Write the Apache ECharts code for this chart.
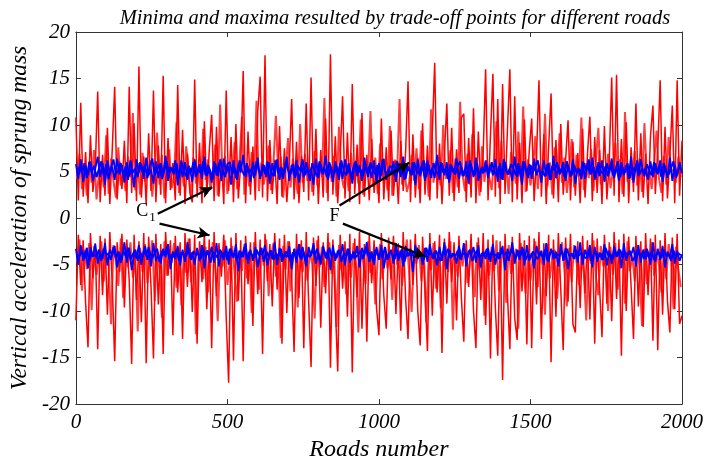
<!DOCTYPE html>
<html>
<head>
<meta charset="utf-8">
<script src="https://cdn.jsdelivr.net/npm/echarts@6/dist/echarts.min.js"></script>
<style>html,body{margin:0;padding:0;background:#fff;overflow:hidden}#c{width:706px;height:467px}</style>
</head>
<body>
<div id="c"></div>
<script>
// Two trade-off solutions per colour family; each sampled every 8 roads.
// "A" solutions sit on roads 0,8,...,2000; "B" solutions on roads 4,12,...,1996.
var roadStep = 8;

var redMaxA = [
10.8,1.9,12.4,2.3,7.1,1.6,8.9,2.8,5.4,13.6,
1.7,6.8,2.4,9.7,1.5,7.4,14.1,2.0,6.1,3.1,
8.3,1.6,14.1,2.7,10.2,1.8,16.3,2.2,6.6,1.5,
9.1,2.9,13.7,1.7,7.8,2.5,15.3,1.6,8.6,3.0,
5.9,1.9,14.3,2.4,9.5,1.5,6.9,2.8,1.7,14.9,
2.2,8.1,1.6,10.4,2.6,7.2,11.1,1.8,9.8,2.3,
6.4,1.5,13.7,2.9,8.7,1.7,10.1,2.1,5.8,15.8,
1.6,9.3,2.5,7.7,1.9,11.4,15.2,2.2,17.5,1.8,
8.4,2.6,6.3,1.5,9.9,2.3,7.5,1.7,5.6,12.8,
2.0,8.2,1.6,6.7,2.8,12.3,1.9,15.1,2.4,9.6,
1.5,7.3,2.2,10.7,1.8,17.6,2.5,8.8,1.6,6.4,
13.1,2.1,9.2,1.7,14.4,2.6,7.9,1.5,11.3,2.3,
6.8,1.9,8.5,2.7,5.7,1.6,10.7,2.0,7.6,1.8,
9.4,2.4,6.2,1.5,8.3,2.9,7.1,14.7,1.7,9.0,
2.2,6.5,1.6,10.2,2.5,7.8,1.9,9.1,16.7,2.1,
8.0,1.5,6.9,12.3,2.4,9.7,1.8,7.4,2.7,10.8,
11.2,1.7,8.6,2.2,11.8,1.6,9.3,2.8,7.0,16.0,
1.9,8.9,15.5,2.3,12.8,1.5,14.4,2.6,9.5,16.0,
1.7,13.1,2.0,8.1,1.6,10.6,2.9,7.2,10.7,1.8,
6.6,14.8,2.3,9.0,1.5,7.7,13.4,2.1,8.4,1.7,
10.1,2.5,6.3,10.5,1.9,8.2,2.4,7.0,1.6,9.6,
2.2,6.8,10.9,1.8,8.7,2.7,7.3,1.5,9.9,2.0,
6.1,15.1,2.4,15.4,1.7,8.5,2.3,10.3,1.6,7.6,
2.8,12.3,1.9,9.1,2.2,6.9,1.5,8.8,12.1,2.6,
7.4,14.8,1.8,9.8,2.1,6.7,12.1,1.6,14.8,2.4,8.3
];
var redMaxB = [
4.2,6.9,3.1,5.5,2.4,6.1,3.8,7.3,2.0,4.7,
5.8,3.3,8.9,2.6,6.4,4.0,2.2,7.6,3.5,5.1,
2.9,6.6,4.4,11.3,3.0,5.9,2.5,7.0,3.9,4.8,
6.2,2.3,5.4,9.2,3.6,6.8,2.1,4.9,7.4,3.2,
4.5,10.3,2.7,6.0,3.4,7.7,5.2,2.0,6.5,3.7,
5.6,2.8,9.6,4.1,6.3,3.0,5.0,7.9,2.4,12.2,
3.9,6.7,2.6,5.3,4.6,8.2,3.1,6.1,10.9,2.5,
5.7,3.4,7.1,4.3,12.6,2.9,6.0,3.6,5.4,7.8,
3.0,5.9,11.0,4.2,6.6,2.2,5.1,8.6,3.3,6.4,
4.7,2.6,10.1,3.8,6.9,4.0,5.5,2.8,7.2,3.5,
6.0,4.4,12.9,2.7,5.8,3.9,6.7,2.3,9.8,4.6,
3.2,5.6,2.9,7.0,4.1,6.2,3.7,10.6,2.5,5.3,
4.8,11.5,3.4,6.5,2.6,8.0,4.3,5.7,3.0,9.9,
2.4,6.3,4.9,12.8,3.6,5.2,2.8,3.9,6.8,4.0,
7.5,3.1,9.4,4.5,5.9,2.3,11.7,3.8,6.1,4.7,
3.5,10.0,4.2,5.0,7.3,2.7,6.4,3.3,12.5,4.6,
2.9,6.9,3.6,9.0,4.8,5.5,2.4,7.7,3.9,6.2,
4.4,3.0,6.6,10.4,3.2,8.3,4.1,5.8,2.6,7.1,
5.4,3.7,9.3,4.0,12.0,2.8,6.3,3.5,5.2,8.8,
3.1,5.7,4.6,11.2,3.4,6.0,2.5,7.6,4.2,9.1,
3.8,6.5,2.7,5.1,8.5,3.3,6.8,4.5,10.8,3.0,
5.9,4.3,7.4,2.9,6.1,9.7,3.6,5.6,4.0,6.9,
3.2,5.0,8.1,4.7,6.3,2.6,11.4,3.9,5.8,4.1,
7.2,3.5,6.4,2.8,10.2,4.6,5.5,3.1,6.0,9.4,
4.3,2.7,6.7,3.6,8.7,4.9,5.3,3.8,6.6,4.4
];

var blueMaxA = [
5.8,4.2,6.3,3.9,5.6,4.6,6.1,4.0,5.3,6.6,
4.4,5.9,3.6,6.2,4.8,5.5,4.1,6.4,4.7,5.7,
3.8,6.0,4.5,5.4,3.3,6.3,4.9,5.8,4.2,6.5,
4.6,5.2,3.7,6.1,4.3,5.9,4.8,6.7,4.0,5.5,
4.9,6.2,3.5,5.7,4.4,6.0,4.1,5.4,3.9,6.3,
4.7,5.8,4.2,6.6,4.5,5.3,3.8,6.1,4.6,5.9,
4.0,6.4,4.8,5.6,3.6,6.2,4.3,5.7,4.9,6.8,
4.4,5.5,3.9,6.0,4.6,6.5,4.2,5.8,4.7,6.1,
3.7,5.9,4.5,6.3,4.1,5.4,4.8,6.6,4.0,5.7,
4.6,6.2,3.8,5.6,4.4,6.0,4.9,5.3,3.6,6.4,
4.3,5.8,4.7,6.7,4.1,5.5,3.9,6.1,4.6,5.9,
4.2,6.3,4.8,5.4,3.7,6.0,4.5,5.7,4.0,6.5,
4.9,5.6,4.3,6.2,3.8,5.9,4.6,6.4,4.1,5.3,
4.7,6.1,3.9,5.8,4.4,6.6,4.2,5.5,4.8,6.0,
3.6,6.3,4.5,5.7,4.0,6.2,4.7,5.4,4.3,6.8,
4.1,5.9,4.6,6.0,3.8,5.6,4.9,6.4,4.2,5.5,
4.5,6.1,3.7,5.8,4.4,6.5,4.0,5.3,4.8,6.2,
4.3,5.7,4.6,6.3,3.9,5.9,4.1,6.0,4.7,5.4,
4.0,6.6,4.4,5.6,3.6,6.1,4.8,5.8,4.2,6.4,
4.6,5.5,3.8,6.2,4.5,5.9,4.1,6.7,4.3,5.6,
4.9,6.0,4.0,5.7,4.4,6.3,3.7,5.4,4.6,6.1,
4.2,5.8,4.7,6.5,4.1,5.6,4.5,6.2,3.9,5.9,
4.8,6.4,4.3,5.5,4.0,6.0,4.6,5.7,4.2,6.6,
3.8,5.8,4.5,6.3,4.9,5.4,4.1,6.1,4.4,5.9,
4.7,6.2,3.9,5.6,4.3,6.5,4.0,5.7,4.6,6.0,4.8
];
var blueMaxB = [
5.1,5.5,4.8,5.9,4.3,6.0,4.9,5.6,4.4,5.3,
6.1,4.6,5.8,4.2,5.4,6.3,4.7,5.2,5.9,4.5,
5.6,4.1,6.2,4.9,5.3,4.4,6.0,5.0,5.7,4.3,
5.5,6.4,4.6,5.2,5.8,4.2,5.1,6.1,4.8,5.4,
4.7,5.9,4.3,6.2,5.0,4.5,5.6,4.9,6.0,4.4,
5.3,4.8,6.1,4.6,5.7,5.0,4.2,5.9,4.5,6.3,
5.2,4.4,5.8,6.0,4.7,5.4,4.1,6.2,5.1,4.6,
5.9,4.9,5.3,4.3,6.1,5.0,4.6,5.7,4.4,6.0,
5.0,4.5,6.2,4.8,5.5,4.2,6.0,5.2,4.7,5.8,
4.3,5.6,5.1,6.3,4.6,5.3,4.0,5.9,5.0,4.5,
6.1,4.8,5.4,4.4,6.0,5.2,4.7,5.6,4.1,6.2,
5.0,4.6,5.9,4.3,5.5,6.1,4.9,5.2,4.5,5.8,
4.4,6.0,5.1,4.7,5.7,4.2,6.3,5.0,4.8,5.6,
5.3,4.5,6.1,4.9,5.4,4.1,5.8,5.2,4.6,6.0,
5.0,4.8,5.5,6.2,4.4,5.7,4.3,5.9,5.1,4.6,
6.0,4.9,5.3,4.2,5.8,5.0,4.7,5.6,6.1,4.5,
5.2,4.4,6.2,5.0,4.6,5.9,4.3,5.5,4.9,5.7,
4.8,6.0,5.1,4.5,5.6,4.2,6.3,5.0,4.7,5.8,
5.3,4.6,5.9,4.4,6.1,5.2,4.3,5.7,4.9,5.5,
6.2,4.8,5.0,4.5,5.8,4.1,5.6,5.1,6.0,4.7,
5.4,4.4,6.1,5.0,4.6,5.7,4.9,5.3,4.2,5.9,
5.1,6.3,4.7,5.5,4.3,6.0,5.0,4.8,5.6,4.5,
5.8,4.6,5.2,6.1,4.4,5.4,4.9,5.9,4.3,5.5,
5.0,6.2,4.7,5.3,4.5,5.8,5.1,4.6,6.0,4.8,
5.6,4.4,5.9,5.0,4.7,5.4,6.1,4.3,5.2,5.7
];

var redMinA = [
-11.0,-1.8,-7.2,-2.4,-9.1,-13.9,-1.6,-6.5,-2.7,-14.1,
-1.9,-8.3,-2.2,-10.4,-1.5,-7.0,-15.4,-2.6,-5.8,-1.7,
-9.6,-2.3,-6.7,-15.7,-1.8,-8.8,-2.5,-11.2,-1.6,-15.6,
-2.0,-7.5,-15.1,-1.7,-9.3,-2.8,-14.6,-1.5,-6.2,-2.4,
-12.6,-1.9,-8.0,-2.6,-13.0,-1.6,-7.4,-2.2,-10.1,-1.8,
-13.5,-2.5,-6.9,-1.7,-9.8,-2.3,-14.0,-1.5,-8.4,-2.7,
-6.3,-1.8,-10.7,-17.7,-2.1,-15.3,-1.6,-8.9,-2.4,-15.4,
-1.9,-7.1,-2.6,-11.6,-1.5,-8.2,-2.3,-14.6,-1.7,-6.8,
-2.8,-9.5,-1.6,-7.7,-2.2,-13.5,-1.8,-10.2,-2.5,-6.4,
-14.4,-1.7,-8.6,-2.4,-14.0,-1.5,-9.0,-16.0,-2.1,-7.3,
-1.9,-11.8,-2.6,-8.1,-1.6,-16.1,-2.3,-9.4,-16.5,-1.8,
-7.6,-2.5,-10.6,-1.7,-16.6,-2.2,-8.5,-1.5,-11.9,-2.8,
-13.3,-1.8,-7.0,-2.4,-9.7,-12.6,-1.6,-8.3,-11.9,-2.1,
-6.6,-1.9,-10.3,-2.7,-12.1,-1.5,-8.7,-13.0,-2.3,-7.2,
-1.7,-9.9,-13.7,-2.0,-7.8,-14.3,-1.6,-10.5,-2.5,-8.0,
-1.8,-14.5,-2.2,-9.2,-1.5,-6.9,-2.6,-11.0,-1.9,-8.6,
-13.3,-2.4,-7.4,-1.7,-10.0,-14.0,-2.1,-8.8,-1.6,-11.5,
-2.3,-15.1,-1.8,-9.6,-14.8,-2.5,-17.4,-1.7,-8.2,-14.1,
-2.0,-10.8,-13.1,-1.6,-7.9,-2.4,-13.6,-1.9,-14.0,-2.2,
-9.3,-1.5,-13.0,-2.7,-8.4,-1.8,-15.5,-2.3,-10.6,-1.6,
-7.7,-14.2,-2.1,-9.0,-1.7,-11.4,-12.3,-2.5,-9.7,-1.9,
-8.1,-2.4,-10.9,-1.6,-13.5,-2.2,-7.5,-12.8,-1.8,-9.2,
-2.6,-11.1,-1.5,-8.7,-2.3,-14.8,-1.7,-10.0,-2.0,-7.3,
-13.0,-1.9,-9.5,-2.5,-11.7,-1.6,-8.3,-2.2,-13.2,-1.8,
-14.2,-2.4,-10.4,-1.6,-8.9,-12.3,-2.1,-9.8,-1.7,-11.4,-10.5
];
var redMinB = [
-4.6,-2.3,-7.8,-3.4,-5.5,-2.7,-9.9,-3.0,-6.1,-4.2,
-2.5,-6.8,-3.8,-5.0,-11.4,-2.9,-4.7,-7.3,-2.2,-8.6,
-3.6,-5.3,-2.6,-6.4,-4.1,-12.2,-3.2,-5.8,-2.8,-7.0,
-4.4,-2.4,-8.9,-3.7,-5.6,-10.7,-2.5,-6.2,-3.9,-4.8,
-2.7,-7.5,-3.3,-9.4,-4.0,-5.9,-2.2,-6.9,-3.5,-12.5,
-4.3,-2.9,-6.6,-3.1,-8.0,-4.9,-2.6,-5.4,-11.1,-3.7,
-5.2,-2.4,-7.2,-4.6,-3.0,-6.0,-9.0,-3.8,-5.7,-2.8,
-6.5,-3.5,-10.2,-2.6,-4.8,-7.7,-3.2,-5.1,-2.3,-8.4,
-4.1,-2.7,-6.3,-3.9,-12.9,-3.0,-5.5,-2.5,-7.9,-4.4,
-3.3,-9.6,-2.8,-5.8,-4.0,-6.7,-3.6,-5.0,-10.8,-2.4,
-5.3,-3.1,-7.4,-4.5,-2.6,-6.0,-3.8,-11.7,-2.9,-5.6,
-4.2,-8.2,-3.4,-6.4,-2.7,-5.1,-12.3,-3.6,-4.7,-7.1,
-2.5,-5.9,-3.9,-9.3,-4.3,-2.8,-6.6,-3.2,-5.4,-4.0,
-8.8,-2.6,-5.0,-3.5,-7.3,-4.6,-2.3,-6.1,-10.1,-3.8,
-4.9,-2.9,-6.8,-3.3,-11.2,-4.1,-5.6,-2.7,-7.6,-3.6,
-9.7,-4.4,-3.0,-5.8,-2.5,-12.0,-4.0,-6.3,-3.4,-5.2,
-2.8,-7.0,-4.7,-3.2,-8.5,-2.6,-5.5,-3.9,-10.5,-4.3,
-6.2,-3.1,-5.7,-2.4,-7.8,-4.5,-3.6,-9.1,-2.9,-6.0,
-4.8,-3.3,-11.9,-2.7,-5.3,-8.1,-3.7,-6.7,-4.2,-2.5,
-7.4,-3.9,-5.1,-10.4,-2.8,-6.5,-4.1,-3.4,-8.7,-4.6,
-2.6,-5.6,-9.5,-3.2,-6.9,-2.9,-4.7,-7.2,-3.8,-5.9,
-11.0,-3.5,-4.9,-2.4,-6.4,-8.3,-3.0,-5.2,-4.4,-10.0,
-3.1,-6.1,-2.7,-7.7,-4.3,-3.6,-9.2,-2.5,-5.7,-4.0,
-6.8,-2.9,-5.4,-11.6,-3.3,-7.1,-4.6,-2.6,-6.2,-3.7,
-5.0,-8.0,-3.4,-6.6,-2.8,-4.5,-9.8,-3.1,-5.5,-7.4
];

var blueMinA = [
-3.3,-5.0,-2.9,-4.6,-3.5,-5.4,-3.1,-4.2,-2.8,-4.9,
-3.6,-4.4,-2.7,-5.1,-3.4,-4.0,-3.0,-5.3,-3.7,-4.5,
-2.6,-4.8,-3.2,-5.6,-3.8,-4.3,-2.9,-5.0,-3.5,-4.1,
-3.1,-5.2,-2.7,-4.6,-3.9,-4.9,-3.3,-4.2,-2.8,-5.5,
-3.6,-4.4,-3.0,-5.1,-3.4,-4.7,-2.6,-4.3,-3.7,-5.0,
-3.2,-4.6,-2.9,-5.4,-3.5,-4.1,-3.1,-4.8,-2.7,-5.2,
-3.8,-4.5,-3.0,-5.0,-3.3,-4.3,-2.8,-5.7,-3.6,-4.2,
-2.7,-4.9,-3.4,-4.6,-3.1,-5.3,-3.7,-4.0,-2.9,-5.1,
-3.5,-4.4,-2.6,-5.0,-3.2,-4.7,-3.9,-4.2,-3.0,-5.5,
-3.3,-4.8,-2.8,-4.5,-3.6,-5.2,-3.1,-4.1,-2.7,-4.9,
-3.7,-5.0,-3.0,-4.3,-3.4,-5.6,-2.9,-4.6,-3.5,-4.2,
-2.8,-5.1,-3.3,-4.8,-3.9,-4.4,-3.0,-5.3,-3.2,-4.0,
-2.6,-4.7,-3.6,-5.0,-3.1,-4.5,-2.9,-5.4,-3.8,-4.3,
-3.4,-4.9,-2.7,-4.6,-3.5,-5.2,-3.0,-4.1,-3.3,-5.8,
-2.9,-4.4,-3.7,-5.0,-3.2,-4.7,-2.8,-4.3,-3.6,-5.1,
-3.1,-4.6,-2.6,-5.5,-3.4,-4.2,-3.8,-4.9,-3.0,-4.5,
-2.7,-5.2,-3.5,-4.0,-3.1,-4.8,-2.9,-5.3,-3.6,-4.4,
-3.2,-4.7,-2.8,-5.0,-3.7,-4.3,-3.0,-5.6,-3.3,-4.1,
-2.6,-4.9,-3.4,-4.5,-3.1,-5.1,-2.9,-4.6,-3.8,-5.4,
-3.0,-4.2,-3.5,-5.0,-2.7,-4.7,-3.3,-4.4,-3.6,-5.2,
-2.8,-4.6,-3.2,-5.5,-3.9,-4.1,-3.0,-4.8,-2.6,-5.0,
-3.4,-4.3,-2.9,-5.3,-3.1,-4.7,-3.7,-4.5,-2.8,-5.1,
-3.5,-4.9,-3.0,-4.2,-3.3,-5.4,-2.7,-4.6,-3.6,-4.0,
-3.1,-5.2,-2.9,-4.8,-3.4,-4.4,-3.8,-5.0,-2.6,-4.7,
-3.3,-4.5,-3.0,-5.3,-3.6,-4.2,-2.8,-4.9,-3.5,-4.6,-3.9
];
var blueMinB = [
-3.9,-4.1,-3.5,-4.4,-3.2,-4.7,-3.7,-3.9,-4.2,-3.4,
-4.6,-3.3,-4.0,-3.8,-4.5,-3.1,-4.3,-3.6,-4.8,-3.5,
-4.1,-3.2,-4.4,-3.9,-3.4,-4.6,-3.7,-4.2,-3.0,-4.5,
-3.6,-4.3,-3.8,-3.3,-4.7,-3.5,-4.0,-3.1,-4.4,-3.9,
-4.2,-3.4,-4.6,-3.7,-3.9,-4.1,-3.3,-4.5,-3.6,-4.0,
-3.8,-4.4,-3.2,-4.2,-3.5,-4.8,-3.7,-3.9,-4.3,-3.4,
-4.0,-3.6,-4.5,-3.3,-4.1,-3.8,-4.6,-3.5,-4.2,-3.1,
-4.4,-3.7,-3.9,-4.3,-3.4,-4.0,-3.2,-4.7,-3.6,-4.1,
-3.5,-4.5,-3.8,-4.1,-3.3,-4.4,-3.6,-3.9,-4.6,-3.7,
-4.0,-3.4,-4.3,-3.1,-4.6,-3.8,-4.2,-3.5,-4.0,-3.3,
-4.5,-3.9,-3.6,-4.4,-3.2,-4.1,-3.7,-4.3,-3.4,-4.7,
-3.8,-4.0,-3.3,-4.5,-3.6,-4.2,-3.9,-3.5,-4.4,-3.2,
-4.1,-3.7,-4.6,-3.4,-4.0,-3.8,-4.3,-3.1,-4.5,-3.6,
-3.9,-4.4,-3.5,-4.2,-3.3,-4.7,-3.8,-4.0,-3.6,-4.3,
-3.4,-4.1,-3.9,-4.5,-3.2,-4.0,-3.7,-4.4,-3.5,-4.2,
-4.6,-3.6,-4.0,-3.3,-4.3,-3.8,-4.1,-3.5,-4.4,-3.9,
-3.7,-4.2,-3.4,-4.6,-3.9,-3.5,-4.3,-3.8,-4.0,-3.3,
-4.5,-3.6,-4.1,-3.9,-4.4,-3.2,-4.0,-3.7,-4.6,-3.4,
-3.8,-4.3,-3.5,-4.0,-3.3,-4.5,-3.9,-4.2,-3.6,-4.1,
-4.4,-3.7,-4.2,-3.4,-4.6,-3.8,-3.5,-4.3,-3.9,-4.0,
-3.6,-4.5,-3.3,-4.1,-3.8,-4.4,-3.5,-4.0,-3.7,-4.2,
-4.3,-3.4,-4.6,-3.9,-3.6,-4.2,-3.8,-4.5,-3.2,-4.0,
-3.9,-4.4,-3.6,-4.1,-3.4,-4.3,-3.7,-4.0,-3.5,-4.6,
-4.2,-3.5,-4.0,-3.8,-4.4,-3.3,-4.1,-3.6,-4.5,-3.9,
-3.7,-4.3,-3.4,-4.1,-3.9,-4.6,-3.5,-4.2,-3.8,-4.0
];

var xTicks = [0, 500, 1000, 1500, 2000];
var yTicks = [-20, -15, -10, -5, 0, 5, 10, 15, 20];

var titleText = 'Minima and maxima resulted by trade-off points for different roads';
var xName = 'Roads number';
var yName = 'Vertical acceleration of sprung mass';

// annotation anchors in data space [road, value]
var c1Label = [231, 0.7];
var fLabel = [853, 0.2];
var arrowsC1 = [[[270, 0.45], [450, 3.3]], [[276, -0.6], [441, -1.85]]];
var arrowsF = [[[870, 1.35], [1100, 5.95]], [[881, -0.6], [1154, -4.15]]];

function pairs(arr, offset) {
  return arr.map(function (v, i) { return [i * roadStep + offset, v]; });
}

var FONT = '"Liberation Serif", "Times New Roman", serif';
var el = document.getElementById('c');
var chart = echarts.init(el, null, { renderer: 'canvas' });

var arrowData = arrowsC1.concat(arrowsF).map(function (a) {
  return [{ coord: a[0] }, { coord: a[1] }];
});

function axisCommon() {
  return {
    axisLine: { show: true, onZero: false, lineStyle: { color: '#333', width: 1 } },
    axisTick: { show: true, inside: true, length: 5, lineStyle: { color: '#333' } },
    splitLine: { show: false }
  };
}

function lineSeries(name, data, color, width, z) {
  return { type: 'line', name: name, data: data, showSymbol: false, symbol: 'none',
    lineStyle: { color: color, width: width }, z: z, silent: true };
}

var option = {
  animation: false,
  backgroundColor: '#fff',
  title: {
    text: titleText,
    left: 390, top: 4, textAlign: 'center',
    textStyle: { fontFamily: FONT, fontStyle: 'italic', fontWeight: 'normal', fontSize: 20.5, color: '#000' }
  },
  grid: { left: 72, right: 23, top: 32, bottom: 57, containLabel: false },
  xAxis: [
    Object.assign(axisCommon(), {
      type: 'value', min: 0, max: 2000, interval: 500, position: 'bottom',
      name: xName, nameLocation: 'middle', nameGap: 32,
      nameTextStyle: { fontFamily: FONT, fontStyle: 'italic', fontSize: 24, color: '#000' },
      axisLabel: { fontFamily: FONT, fontStyle: 'italic', fontSize: 21, color: '#000', margin: 8,
        formatter: function (v) { return xTicks.indexOf(v) >= 0 ? String(v) : ''; } }
    }),
    Object.assign(axisCommon(), {
      type: 'value', min: 0, max: 2000, interval: 500, position: 'top',
      axisLabel: { show: false }
    })
  ],
  yAxis: [
    Object.assign(axisCommon(), {
      type: 'value', min: -20, max: 20, interval: 5, position: 'left',
      name: yName, nameLocation: 'middle', nameGap: 38,
      nameTextStyle: { fontFamily: FONT, fontStyle: 'italic', fontSize: 23.5, color: '#000' },
      axisLabel: { fontFamily: FONT, fontStyle: 'italic', fontSize: 21, color: '#000', margin: 6,
        formatter: function (v) { return yTicks.indexOf(v) >= 0 ? String(v) : ''; } }
    }),
    Object.assign(axisCommon(), {
      type: 'value', min: -20, max: 20, interval: 5, position: 'right',
      axisLabel: { show: false }
    })
  ],
  series: [
    lineSeries('max red B', pairs(redMaxB, 4), '#ff4040', 2.0, 1),
    lineSeries('min red B', pairs(redMinB, 4), '#ff4040', 2.0, 1),
    lineSeries('max red A', pairs(redMaxA, 0), '#ff0000', 1.5, 2),
    lineSeries('min red A', pairs(redMinA, 0), '#ff0000', 1.5, 2),
    lineSeries('max blue B', pairs(blueMaxB, 4), '#0000ff', 2.0, 3),
    lineSeries('max blue A', pairs(blueMaxA, 0), '#0000ff', 1.8, 3),
    lineSeries('min blue B', pairs(blueMinB, 4), '#0000ff', 2.0, 3),
    Object.assign(lineSeries('min blue A', pairs(blueMinA, 0), '#0000ff', 1.8, 3), {
      markLine: {
        silent: true, symbol: ['none', 'arrow'], symbolSize: [9, 12],
        lineStyle: { color: '#000', width: 2.2, type: 'solid' },
        label: { show: false },
        data: arrowData
      },
      markPoint: {
        silent: true, symbol: 'circle', symbolSize: 0,
        label: {
          show: true, position: 'inside', color: '#000', fontFamily: FONT, fontSize: 18,
          formatter: function (p) { return p.name === 'C1' ? '{c|C}{s|1}' : '{c|F}'; },
          rich: {
            c: { fontFamily: FONT, fontSize: 18, color: '#000' },
            s: { fontFamily: FONT, fontSize: 13, color: '#000', padding: [12, 0, 0, 1] }
          }
        },
        data: [ { name: 'C1', coord: c1Label }, { name: 'F', coord: fLabel } ]
      }
    })
  ]
};
chart.setOption(option);
</script>
</body>
</html>
